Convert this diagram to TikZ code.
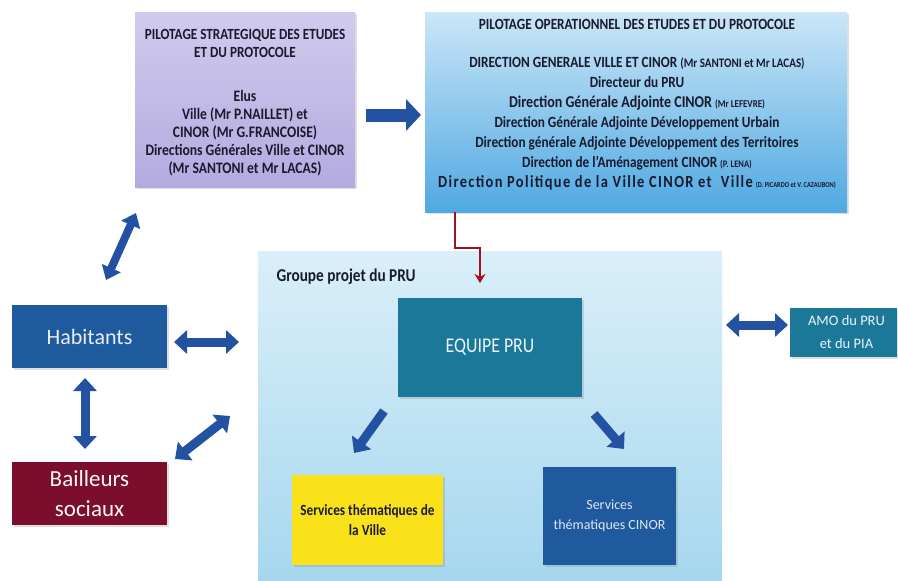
\documentclass[tikz,border=0pt]{standalone}
\usepackage{fontspec}
\setmainfont{Carlito}
\newfontfamily\cb{Carlito}[FakeStretch=0.85]
\newfontfamily\cbw{Carlito}[FakeStretch=0.85, LetterSpace=8]
\usetikzlibrary{arrows.meta,shadows,calc}
\definecolor{arrowblue}{HTML}{2452A2}
\definecolor{darkblue}{HTML}{1F5A9E}
\definecolor{teal}{HTML}{1B7898}
\definecolor{wine}{HTML}{7B0E2C}
\definecolor{yel}{HTML}{F9E21A}
\definecolor{redline}{HTML}{A3111F}
\definecolor{lavtop}{HTML}{D0CBEE}
\definecolor{lavbot}{HTML}{B3ABDF}
\definecolor{optop}{HTML}{CBE6F7}
\definecolor{opbot}{HTML}{4FA9E2}
\definecolor{grtop}{HTML}{DAEFF9}
\definecolor{grbot}{HTML}{A6D7EE}
\definecolor{txt}{HTML}{1A1A2E}
\newcommand{\fs}[2]{\fontsize{#1}{#2}\selectfont}
\tikzset{
  box/.style={rectangle, inner sep=0pt, align=center, drop shadow={opacity=0.25, shadow xshift=2pt, shadow yshift=-2pt}},
  blockarrow/.style={line width=9pt, arrowblue, -{Triangle[width=23pt,length=13pt]}},
  dblarrow/.style={line width=9pt, arrowblue, {Triangle[width=23pt,length=13pt]}-{Triangle[width=23pt,length=13pt]}},
  redarrow/.style={line width=2.8pt, redline, -{Stealth[length=9pt,width=11pt]}},
}
\begin{document}
\begin{tikzpicture}[x=1pt,y=-1pt]
\useasboundingbox (0,0) rectangle (898,581);
\fill[white] (0,0) rectangle (898,581);
% boxes
\node[box, top color=lavtop, bottom color=lavbot, minimum width=220pt, minimum height=175pt] (strat) at (245,99.5) {};
\node[text=txt, align=center, font=\cb\bfseries\fs{15.5}{18}] (strattext) at (245,102.5)
 {PILOTAGE STRATEGIQUE DES ETUDES\\ET DU PROTOCOLE\\[26pt]{\fs{16}{18}Elus}\\{\fs{16}{18}Ville (Mr P.NAILLET) et}\\{\fs{16}{18}CINOR (Mr G.FRANCOISE)}\\{\fs{16}{18}Directions Générales Ville et CINOR}\\{\fs{16}{18}(Mr SANTONI et Mr LACAS)}};
\node[box, top color=optop, bottom color=opbot, minimum width=422pt, minimum height=200pt] (oper) at (636,112) {};
\node[text=txt, align=center, font=\cb\bfseries\fs{15.6}{20}] (opertext) at (637,105)
 {PILOTAGE OPERATIONNEL DES ETUDES ET DU PROTOCOLE\\[18pt]
  DIRECTION GENERALE VILLE ET CINOR {\fs{13}{20}(Mr SANTONI et Mr LACAS)}\\
  Directeur du PRU\\
  {\fs{16.5}{20}Direction Générale Adjointe CINOR} {\fs{10.5}{20}(Mr LEFEVRE)}\\
  Direction Générale Adjointe Développement Urbain\\
  Direction générale Adjointe Développement des Territoires\\
  Direction de l’Aménagement CINOR {\fs{10}{20}(P. LENA)}\\
  {\cbw\bfseries\fs{17}{20}Direction Politique de la Ville CINOR et\ \ Ville} {\fs{7.5}{20}(D. PICARDO et V. CAZAUBON)}};
\node[rectangle, top color=grtop, bottom color=grbot, minimum width=464pt, minimum height=331pt, inner sep=0pt] (group) at (490,416.5) {};
\node[anchor=west, text=txt, font=\cb\bfseries\fs{18}{20}] (grouptitle) at (273,277) {Groupe projet du PRU};
\node[box, fill=teal, text=white!92!teal, minimum width=184pt, minimum height=99pt, font=\cb\fs{21}{24}] (equipe) at (490,347.5) {EQUIPE PRU};
\node[box, fill=yel, text=txt, minimum width=151pt, minimum height=90pt, font=\cb\bfseries\fs{15.6}{20}] (ville) at (367.5,520) {Services thématiques de\\la Ville};
\node[box, fill=darkblue, text=white!85!darkblue, minimum width=133pt, minimum height=98pt, font=\fs{14}{20}] (cinor) at (609.5,516) {Services\\thématiques CINOR};
\node[box, fill=teal, text=white!92!teal, minimum width=107pt, minimum height=49pt, font=\fs{14.5}{23}] (amo) at (843.5,332.5) {\hspace*{6pt}AMO du PRU\\\hspace*{6pt}et du PIA};
\node[box, fill=darkblue, text=white!90!darkblue, minimum width=155pt, minimum height=63pt, font=\fs{22}{24}] (hab) at (89.5,336.5) {Habitants};
\node[box, fill=wine, text=white!88!pink, minimum width=155pt, minimum height=63pt, font=\fs{23}{30}] (bail) at (89.5,493.5) {Bailleurs\\sociaux};
% arrow end points
\coordinate (a1s) at (366,115); \coordinate (a1e) at (421,115);
\coordinate (a2s) at (106,280); \coordinate (a2e) at (136,213);
\coordinate (a3s) at (174,342); \coordinate (a3e) at (239,342);
\coordinate (a4s) at (85,378); \coordinate (a4e) at (85,449);
\coordinate (a5s) at (175,459); \coordinate (a5e) at (230,416);
\coordinate (a6s) at (726,325); \coordinate (a6e) at (788,325);
\coordinate (a7s) at (384,411); \coordinate (a7e) at (354,453);
\coordinate (a8s) at (594,414); \coordinate (a8e) at (624,449);
\coordinate (r1) at (oper.south -| 455,0); \coordinate (r2) at (480,283);
% arrows
\draw[blockarrow, line width=13pt, -{Triangle[width=31pt,length=15pt]}] (a1s) -- (a1e);
\draw[dblarrow, line width=8pt, {Triangle[width=20pt,length=13pt]}-{Triangle[width=20pt,length=13pt]}] (a2s) -- (a2e);
\draw[dblarrow] (a3s) -- (a3e);
\draw[dblarrow] (a4s) -- (a4e);
\draw[dblarrow] (a5s) -- (a5e);
\draw[dblarrow] (a6s) -- (a6e);
\draw[blockarrow] (a7s) -- (a7e);
\draw[blockarrow] (a8s) -- (a8e);
\draw[redarrow] (r1) -- (455,248) -- (480,248) -- (r2);
\end{tikzpicture}
\end{document}
